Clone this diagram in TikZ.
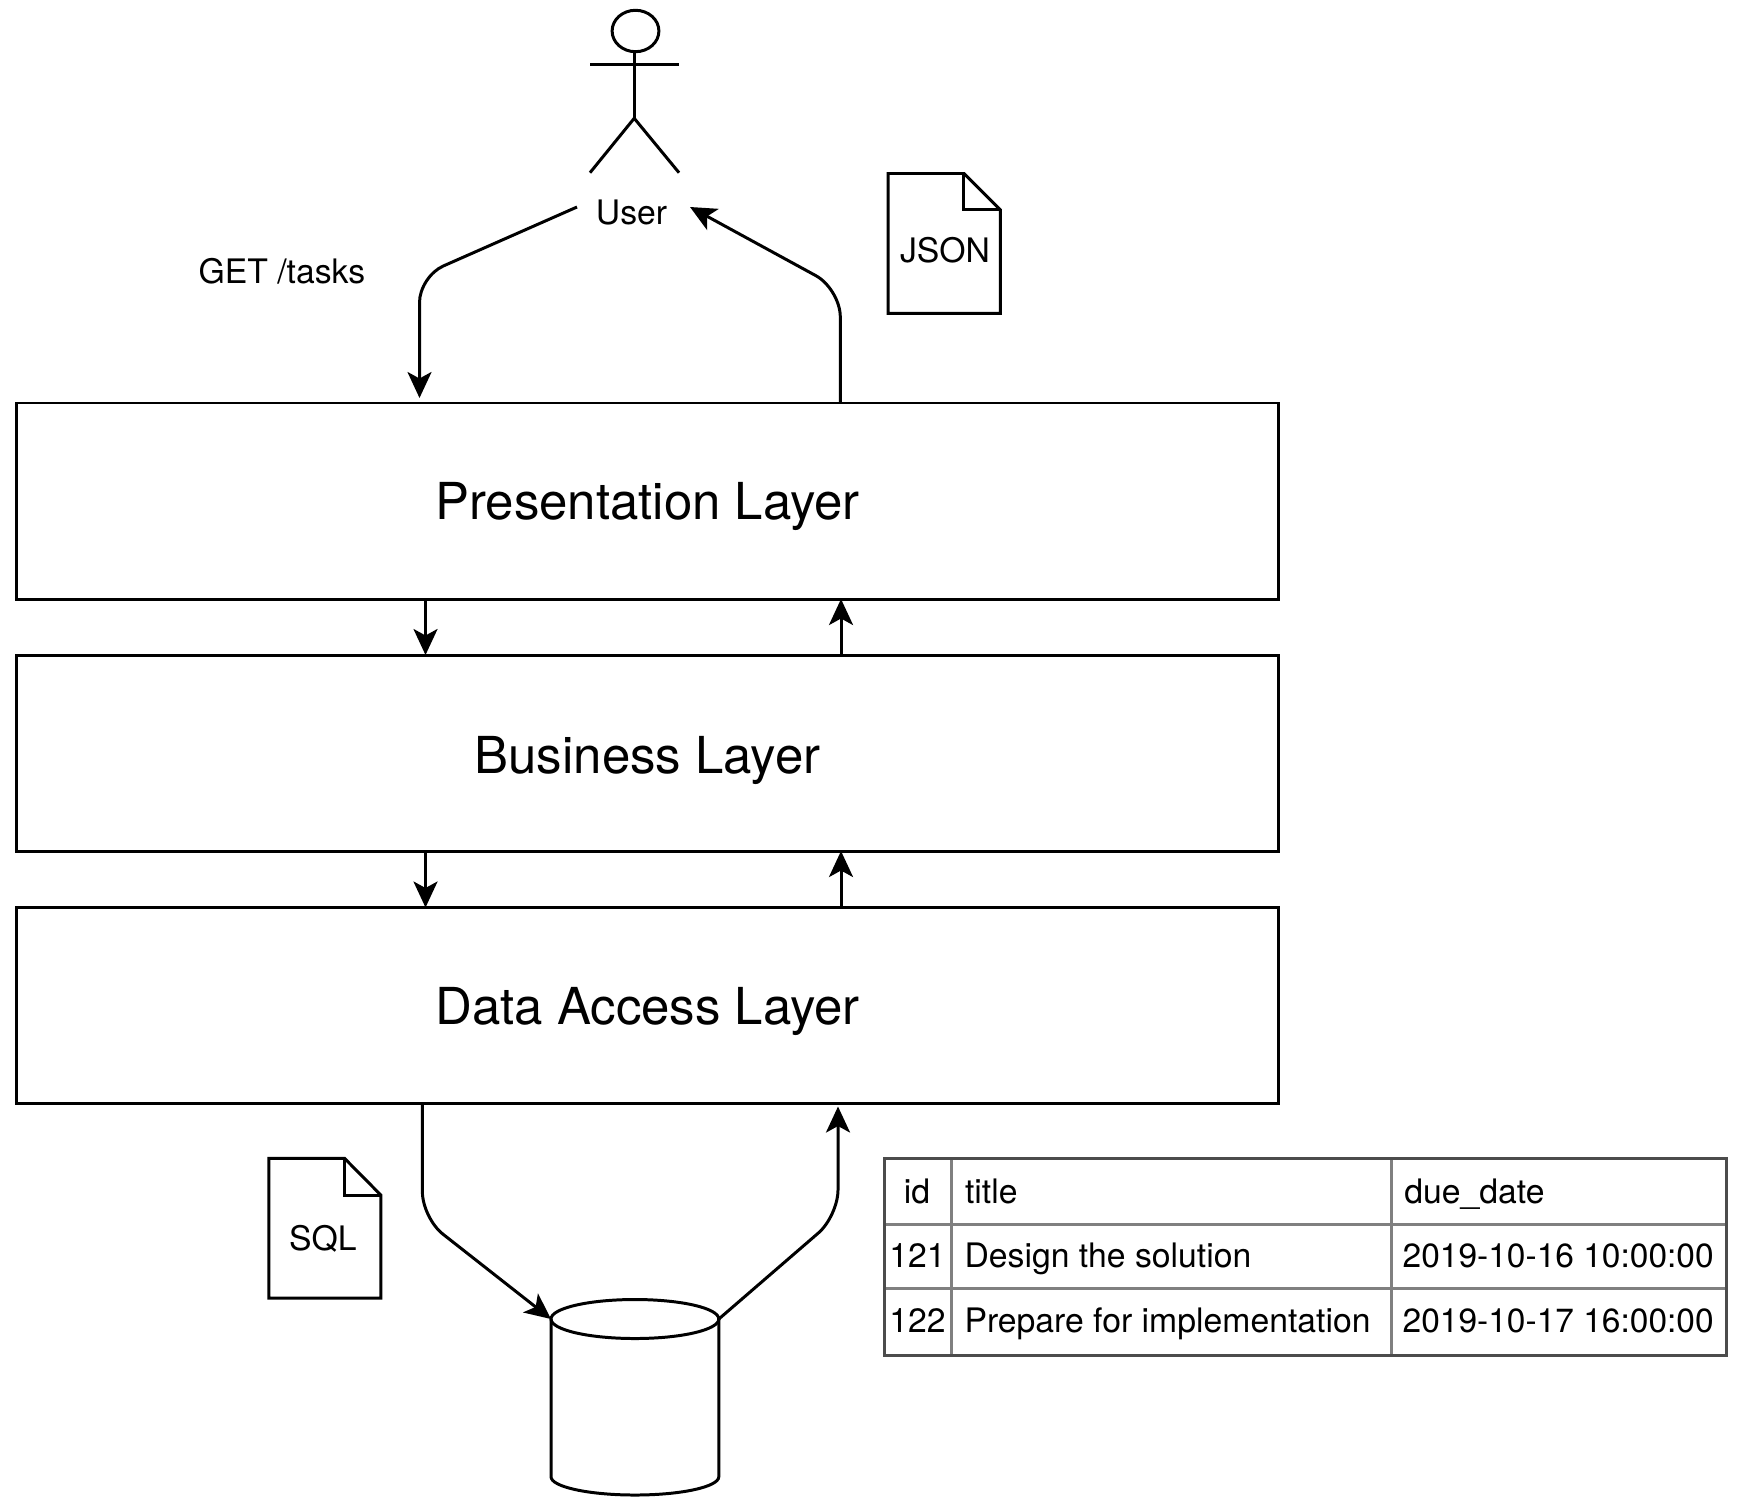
\documentclass[tikz,border=0pt]{standalone}
\usepackage{fontspec}
\setmainfont{TeX Gyre Heros}
\usetikzlibrary{arrows.meta}
\tikzset{
  shape line/.style={draw=black,line width=0.85pt},
  link/.style={line width=0.85pt,-{Stealth[length=2.6mm,width=2.4mm,inset=0.65mm]}},
  layer/.style={shape line,rectangle,minimum width=12.62cm,minimum height=1.96cm,inner sep=0,outer sep=0,
    font=\fontsize{14.5}{17}\selectfont,text height=3.6mm,text depth=0pt},
  txt/.style={inner sep=0,outer sep=0,font=\fontsize{9.6}{11}\selectfont},
  date/.style={txt,anchor=base west,font=\fontsize{9.53}{11}\selectfont},
  grid/.style={draw=black!50,line width=0.85pt},
  grid edge/.style={draw=black!70,line width=0.85pt}
}
\begin{document}
\begin{tikzpicture}
\useasboundingbox (0,0) rectangle (17.42,-15.1);

% actor
\draw[shape line] (6.355,-0.31) ellipse [x radius=0.234,y radius=0.207];
\draw[shape line] (6.342,-0.517) -- (6.342,-1.183);
\draw[shape line] (5.90,-0.643) -- (6.79,-0.643);
\draw[shape line] (5.90,-1.727) -- (6.342,-1.183) -- (6.79,-1.727);
\node[txt,minimum width=1.09cm,text height=3.4mm,text depth=0pt] (user) at (6.315,-2.07) {User};

% layers
\node[layer] (pres) at (6.475,-5.01) {Presentation Layer};
\node[layer,text height=4.04mm] (biz) at (6.475,-7.53) {Business Layer};
\node[layer,text height=3.82mm] (dal) at (6.475,-10.055) {Data Access Layer};

\coordinate (downx) at (4.255,0);
\coordinate (upx) at (8.41,0);
\draw[link] (pres.south -| downx) -- (biz.north -| downx);
\draw[link] (biz.north -| upx) -- (pres.south -| upx);
\draw[link] (biz.south -| downx) -- (dal.north -| downx);
\draw[link] (dal.north -| upx) -- (biz.south -| upx);

% user to presentation and back
\coordinate (getbend) at (4.195,-2.765);
\coordinate (jsonbend) at (8.403,-2.89);
\draw[link,rounded corners=0.26cm,shorten >=0.5mm] (user.west) -- (getbend) -- (pres.north -| getbend);
\draw[link,rounded corners=0.28cm] (pres.north -| jsonbend) -- (jsonbend) -- ([xshift=0.4mm]user.east);
\node[txt,anchor=base west] (get) at (1.985,-2.83) {GET /tasks};

% json file
\draw[shape line] (8.88,-1.735) -- (9.639,-1.735) -- (10.003,-2.098) -- (10.003,-3.133) -- (8.88,-3.133) -- cycle;
\draw[shape line] (9.639,-1.735) -- (9.639,-2.098) -- (10.003,-2.098);
\node[txt,anchor=base] (json) at (9.45,-2.627) {JSON};

% sql file
\draw[shape line] (2.688,-11.583) -- (3.445,-11.583) -- (3.808,-11.95) -- (3.808,-12.98) -- (2.688,-12.98) -- cycle;
\draw[shape line] (3.445,-11.583) -- (3.445,-11.95) -- (3.808,-11.95);
\node[txt,anchor=base] (sql) at (3.229,-12.5) {SQL};

% database
\node[inner sep=0,outer sep=0,minimum width=1.678cm,minimum height=1.95cm] (db) at (6.349,-13.975) {};
\coordinate (dbleft) at ([yshift=-1.9mm]db.north west);
\coordinate (dbright) at ([yshift=-1.9mm]db.north east);
\draw[shape line] (db.center |- dbleft) ellipse [x radius=0.839,y radius=0.195];
\draw[shape line] (dbleft) -- ([yshift=1.83mm]db.south west) arc [start angle=180,end angle=360,x radius=0.839,y radius=0.183] -- (dbright);

\coordinate (sqlbend) at (4.224,-12.18);
\coordinate (rowsbend) at (8.38,-12.16);
\draw[link,rounded corners=0.26cm] (dal.south -| sqlbend) -- (sqlbend) -- (dbleft);
\draw[link,rounded corners=0.26cm,shorten >=0.3mm] (dbright) -- (rowsbend) -- (dal.south -| rowsbend);

% table
\draw[grid] (8.846,-12.24) -- (17.26,-12.24);
\draw[grid] (8.846,-12.88) -- (17.26,-12.88);
\draw[grid] (9.51,-11.583) -- (9.51,-13.55);
\draw[grid] (13.915,-11.583) -- (13.915,-13.55);
\draw[grid edge] (8.846,-11.583) rectangle (17.26,-13.55);

\node[txt,anchor=base] (idhead) at (9.17,-12.037) {id};
\node[txt,anchor=base west] (titlehead) at (9.65,-12.037) {title};
\node[txt,anchor=base west] (datehead) at (14.044,-12.037) {due\_date};
\node[txt,anchor=base] (idone) at (9.175,-12.677) {121};
\node[txt,anchor=base west] (titleone) at (9.645,-12.677) {Design the solution};
\node[date] (dateone) at (14.027,-12.677) {2019-10-16 10:00:00};
\node[txt,anchor=base] (idtwo) at (9.175,-13.327) {122};
\node[txt,anchor=base west] (titletwo) at (9.645,-13.327) {Prepare for implementation};
\node[date] (datetwo) at (14.027,-13.327) {2019-10-17 16:00:00};
\end{tikzpicture}
\end{document}
